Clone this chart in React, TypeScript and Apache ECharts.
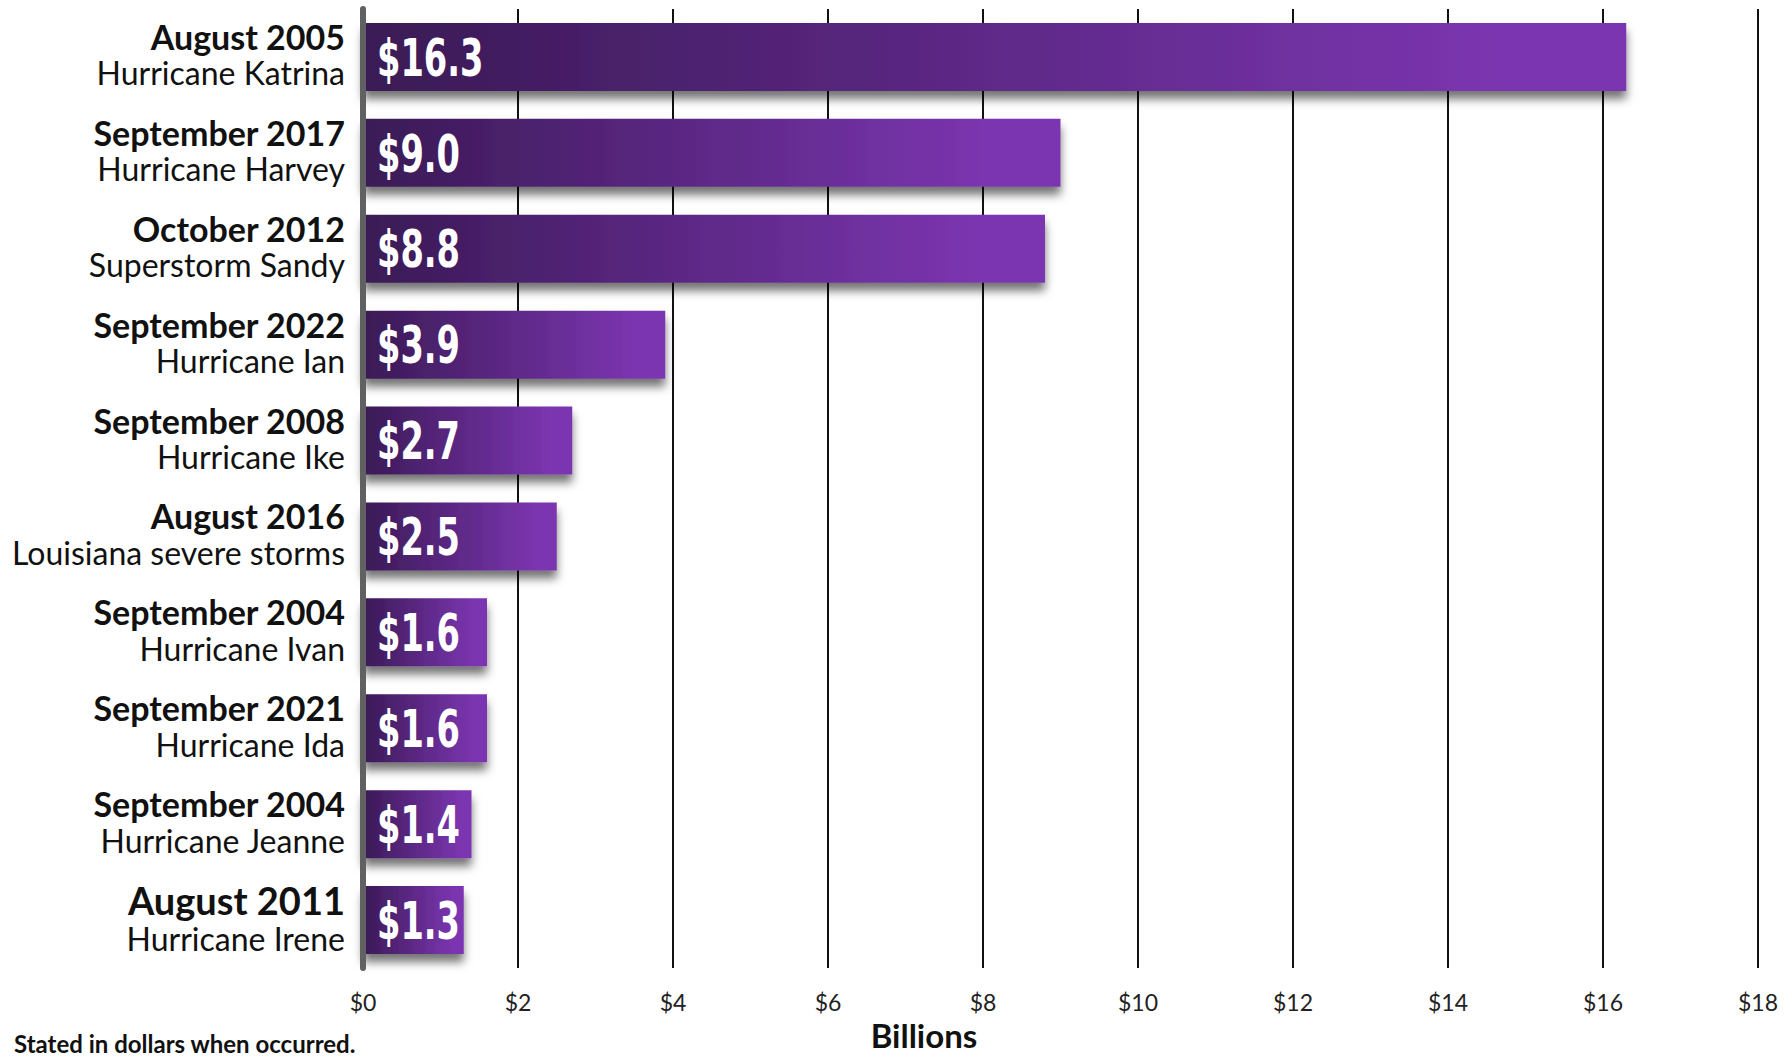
import React, { useEffect, useRef } from "react";
import * as echarts from "echarts";

const dates = [
  "August 2005",
  "September 2017",
  "October 2012",
  "September 2022",
  "September 2008",
  "August 2016",
  "September 2004",
  "September 2021",
  "September 2004",
  "August 2011",
];
const events = [
  "Hurricane Katrina",
  "Hurricane Harvey",
  "Superstorm Sandy",
  "Hurricane Ian",
  "Hurricane Ike",
  "Louisiana severe storms",
  "Hurricane Ivan",
  "Hurricane Ida",
  "Hurricane Jeanne",
  "Hurricane Irene",
];
const values = [16.3, 9.0, 8.8, 3.9, 2.7, 2.5, 1.6, 1.6, 1.4, 1.3];
const axisTitle = "Billions";
const footnote = "Stated in dollars when occurred.";

export default function App() {
  const ref = useRef<HTMLDivElement>(null);
  useEffect(() => {
    document.body.style.margin = "0";
    const chart = echarts.init(ref.current!, undefined, { renderer: "svg" });
    const grad = new echarts.graphic.LinearGradient(0, 0, 1, 0, [
      { offset: 0, color: "#3a1a55" },
      { offset: 0.9, color: "#7b35b0" },
      { offset: 1, color: "#7b35b0" },
    ]);
    chart.setOption({
      animation: false,
      backgroundColor: "#ffffff",
      grid: { left: 363, right: 31, top: 9, bottom: 89, containLabel: false },
      xAxis: {
        type: "value",
        min: 0,
        max: 18,
        interval: 2,
        axisLine: { show: false },
        axisTick: { show: false },
        axisLabel: {
          formatter: (v: number) => "$" + v,
          fontFamily: "Lato",
          fontSize: 23,
          color: "#222",
          margin: 22,
        },
        splitLine: { show: true, lineStyle: { color: "#111", width: 2 } },
      },
      yAxis: {
        type: "category",
        data: dates,
        inverse: true,
        z: 3,
        axisLine: { show: true, lineStyle: { color: "#616161", width: 6 } },
        axisTick: { show: false },
        axisLabel: {
          margin: 18,
          align: "right",
          padding: [0, 0, 5, 0],
          formatter: (v: string, i: number) =>
            (i === 9 ? "{bb|" : "{b|") + v + "}\n{r|" + events[i] + "}",
          rich: {
            b: {
              fontFamily: "Lato",
              fontWeight: "bold",
              fontSize: 34,
              color: "#111",
              lineHeight: 37,
              align: "right",
            },
            bb: {
              fontFamily: "Lato",
              fontWeight: "bold",
              fontSize: 38,
              color: "#111",
              lineHeight: 42,
              align: "right",
            },
            r: {
              fontFamily: "Lato",
              fontSize: 32,
              color: "#111",
              lineHeight: 36,
              align: "right",
            },
          },
        },
        splitLine: { show: false },
      },
      series: [
        {
          type: "bar",
          data: values,
          barWidth: 68,
          itemStyle: {
            color: grad,
            shadowBlur: 10,
            shadowColor: "rgba(0,0,0,0.55)",
            shadowOffsetX: 0,
            shadowOffsetY: 8,
          },
        },
        {
          type: "custom",
          z: 4,
          data: values.map((v, i) => [v, i]),
          encode: { x: 0, y: 1 },
          renderItem: (params: any, api: any) => {
            const v = api.value(0);
            const pt = api.coord([0, api.value(1)]);
            return {
              type: "text",
              x: pt[0] + 14,
              y: pt[1] + 1,
              scaleX: 0.66,
              style: {
                text: "$" + Number(v).toFixed(1),
                fill: "#ffffff",
                fontFamily: "DejaVu Sans",
                fontWeight: "bold",
                fontSize: 51,
                textAlign: "left",
                textVerticalAlign: "middle",
                shadowColor: "rgba(0,0,0,0.45)",
                shadowBlur: 4,
                shadowOffsetX: 2,
                shadowOffsetY: 2,
              },
            };
          },
        },
      ],
      graphic: [
        {
          type: "text",
          x: 924,
          y: 1035,
          style: {
            text: axisTitle,
            fontFamily: "Lato",
            fontWeight: "bold",
            fontSize: 33,
            lineHeight: 33,
            fill: "#111",
            textAlign: "center",
            textVerticalAlign: "middle",
          },
        },
        {
          type: "text",
          x: 14,
          y: 1043,
          style: {
            text: footnote,
            fontFamily: "Lato",
            fontWeight: "bold",
            fontSize: 24,
            fill: "#111",
            textAlign: "left",
            textVerticalAlign: "middle",
          },
        },
      ],
    });
    return () => chart.dispose();
  }, []);
  return <div ref={ref} style={{ width: 1789, height: 1057 }} />;
}
